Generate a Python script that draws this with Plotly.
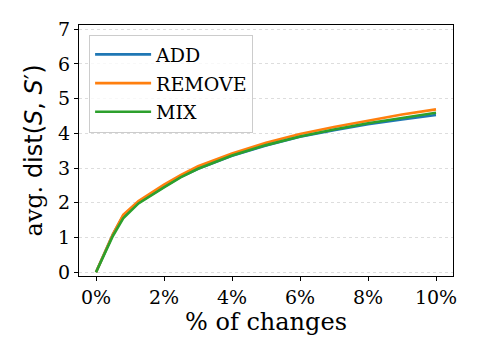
import plotly.graph_objects as go

# fraction of changes
changes = [0, 0.005, 0.008, 0.0125, 0.02, 0.025, 0.03, 0.04, 0.05, 0.06, 0.07, 0.08, 0.09, 0.10]

# avg. dist(S, S') per strategy
dist_add = [0, 1.10, 1.62, 2.00, 2.46, 2.75, 2.98, 3.35, 3.65, 3.90, 4.09, 4.26, 4.40, 4.53]
dist_remove = [0, 1.10, 1.65, 2.05, 2.52, 2.80, 3.05, 3.42, 3.73, 3.98, 4.18, 4.37, 4.54, 4.69]
dist_mix = [0, 1.05, 1.55, 1.98, 2.44, 2.74, 2.98, 3.36, 3.66, 3.91, 4.11, 4.29, 4.44, 4.59]

x_ticks = [0, 0.02, 0.04, 0.06, 0.08, 0.10]
x_labels = ["0%", "2%", "4%", "6%", "8%", "10%"]

serif = "DejaVu Serif"

fig = go.Figure()
for name, vals, color in [
    ("ADD", dist_add, "#1f77b4"),
    ("REMOVE", dist_remove, "#ff7f0e"),
    ("MIX", dist_mix, "#2ca02c"),
]:
    fig.add_trace(go.Scatter(
        x=changes, y=vals, mode="lines", name=name, legendgroup=name,
        line=dict(color=color, width=2.6),
    ))

# page body adds an 8px offset, so margins are shifted to compensate
fig.update_layout(
    width=480, height=360,
    margin=dict(l=71, r=35, t=17, b=92),
    plot_bgcolor="white", paper_bgcolor="white",
    font=dict(family=serif, size=19, color="black"),
    legend=dict(
        x=0.027, y=0.962, xanchor="left", yanchor="top",
        bgcolor="rgba(255,255,255,0.8)", bordercolor="#cccccc", borderwidth=1,
        font=dict(family=serif, size=19), tracegroupgap=1, itemwidth=56,
    ),
)
fig.update_xaxes(
    range=[-0.005, 0.105], tickvals=x_ticks, ticktext=x_labels,
    tickfont=dict(family=serif, size=19), automargin=False,
    showgrid=False, zeroline=False,
    showline=True, linecolor="black", linewidth=1.2, mirror=True,
    ticks="outside", ticklen=4, tickcolor="black",
    title=dict(text="% of changes", font=dict(family=serif, size=24), standoff=6),
)
fig.update_yaxes(
    range=[-0.11, 7.12], tickvals=list(range(8)),
    tickfont=dict(family=serif, size=19), automargin=False,
    showgrid=True, gridcolor="#dddddd", griddash="dot", gridwidth=0.8,
    zeroline=False,
    showline=True, linecolor="black", linewidth=1.2, mirror=True,
    ticks="outside", ticklen=4, tickcolor="black",
    title=dict(
        text="avg. <span style='font-family:DejaVu Sans'>dist(<i>S</i>, <i>S</i>′)</span>",
        font=dict(family=serif, size=24), standoff=8,
    ),
)

fig.write_html("out.html")
